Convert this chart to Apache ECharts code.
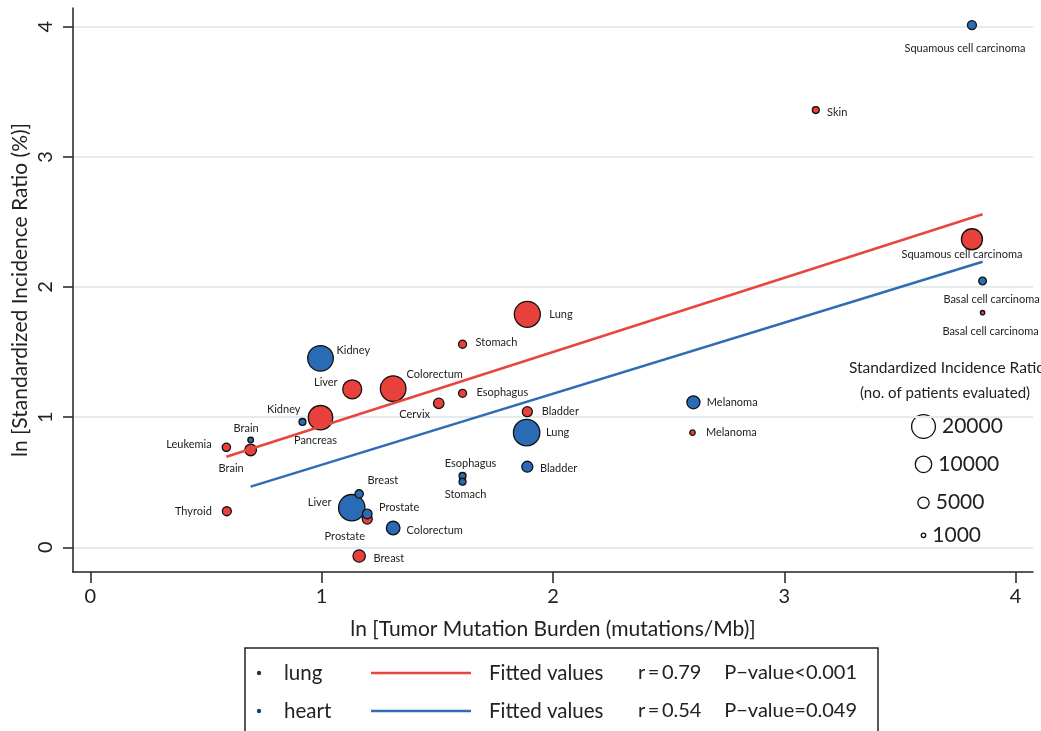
<!DOCTYPE html>
<html>
<head>
<meta charset="utf-8">
<title>TMB vs standardized incidence ratio</title>
<script src="https://cdn.jsdelivr.net/npm/echarts@6/dist/echarts.min.js"></script>
<style>
  html, body { margin: 0; padding: 0; background: #fff; }
  #chart { width: 1041px; height: 731px; }
</style>
</head>
<body>
<div id="chart"></div>
<script>
// ln(TMB) on x, ln(SIR) on y, patients -> bubble size
const lungNames = ['Leukemia', 'Brain', 'Thyroid', 'Pancreas', 'Liver', 'Colorectum', 'Cervix', 'Esophagus', 'Stomach',
  'Lung', 'Bladder', 'Prostate', 'Breast', 'Melanoma', 'Skin', 'Squamous cell carcinoma', 'Basal cell carcinoma'];
const lungTmb = [0.588, 0.693, 0.590, 0.995, 1.132, 1.309, 1.506, 1.609, 1.609, 1.889, 1.889, 1.197, 1.162, 2.603, 3.136, 3.811, 3.857];
const lungSir = [0.768, 0.748, 0.277, 0.996, 1.214, 1.219, 1.106, 1.183, 1.560, 1.790, 1.042, 0.217, -0.067, 0.881, 3.360, 2.367, 1.803];
const lungPatients = [2800, 5100, 3200, 20600, 12800, 22600, 4200, 2600, 2600, 23300, 3900, 3900, 5700, 1300, 2000, 15500, 900];

const heartNames = ['Kidney', 'Kidney', 'Brain', 'Liver', 'Breast', 'Prostate', 'Colorectum', 'Esophagus', 'Stomach',
  'Lung', 'Bladder', 'Melanoma', 'Squamous cell carcinoma', 'Basal cell carcinoma'];
const heartTmb = [0.995, 0.917, 0.693, 1.130, 1.162, 1.197, 1.309, 1.609, 1.609, 1.886, 1.889, 2.607, 3.811, 3.857];
const heartSir = [1.452, 0.963, 0.824, 0.304, 0.410, 0.256, 0.148, 0.548, 0.504, 0.881, 0.619, 1.114, 4.013, 2.046];
const heartPatients = [22600, 2000, 1400, 24000, 2800, 3600, 6800, 2000, 2000, 24000, 4600, 6300, 3200, 2400];

// fitted values at the ends of each group's x range
const lungFit = [[0.588, 0.696], [3.857, 2.559]];
const heartFit = [[0.693, 0.466], [3.857, 2.194]];

const xTicks = [0, 1, 2, 3, 4];
const yTicks = [0, 1, 2, 3, 4];
const sizeLegendValues = [20000, 10000, 5000, 1000];

// label placement (align, dx, dy) relative to marker centre
const lungLabelPos = [['right', -14.7, -3], ['right', -7, 19], ['right', -15, 0], ['center', -5, 23], ['right', -14.6, -7],
  ['left', 13.4, -14], ['right', -8.7, 11], ['left', 14, -1], ['left', 13, -2], ['left', 22, 0], ['left', 14.4, 0],
  ['right', -2.3, 17], ['left', 14.4, 2], ['left', 13.4, 0], ['left', 11.3, 2], ['center', -10, 15], ['center', 8, 19]];
const heartLabelPos = [['left', 16, -8], ['right', -2, -13], ['center', -4.5, -12], ['right', -20.3, -5], ['left', 8.4, -13],
  ['left', 11.7, -7], ['left', 13.4, 2], ['center', 8, -13], ['center', 3, 13], ['left', 19.3, 0], ['left', 12.7, 2],
  ['left', 13.4, 0], ['center', -7, 23], ['center', 9, 18]];

const RED = '#e8403a';
const BLUE = '#2a6bb5';
const FONT = 'Lato';

function radius(n) {
  return 12.5 * Math.sqrt(n / 20000);
}

function buildPoints(names, tmb, sir, patients, labelPos) {
  return names.map((name, i) => ({
    name: name,
    value: [tmb[i], sir[i], patients[i]],
    label: {
      align: labelPos[i][0],
      offset: [labelPos[i][1], labelPos[i][2]]
    }
  }));
}

function scatterSeries(name, color, data) {
  return {
    name: name,
    type: 'scatter',
    data: data,
    symbol: 'circle',
    symbolSize: val => Math.max(2 * radius(val[2]) - 1, 2),
    itemStyle: { color: color, borderColor: '#111', borderWidth: 1.3, opacity: 1 },
    label: {
      show: true,
      position: 'inside',
      formatter: '{b}',
      verticalAlign: 'middle',
      fontFamily: FONT,
      fontSize: 11,
      color: '#222'
    },
    emphasis: { disabled: true },
    z: 3
  };
}

function fitSeries(name, color, data) {
  return {
    name: name,
    type: 'line',
    data: data,
    symbol: 'none',
    lineStyle: { color: color, width: 2.5 },
    emphasis: { disabled: true },
    silent: true,
    z: 4
  };
}

// legend box under the axis title
const legendRows = [
  { y: 673, dot: '#333', label: 'lung', line: '#e8453f', r: 'r\u2009=\u20090.79', p: 'P\u2212value<0.001' },
  { y: 711, dot: '#1f3f6e', label: 'heart', line: '#2e6db5', r: 'r\u2009=\u20090.54', p: 'P\u2212value=0.049' }
];

function text(str, x, y, size, align) {
  return {
    type: 'text',
    silent: true,
    style: {
      text: str, x: x, y: y,
      font: size + 'px ' + FONT,
      fill: '#222',
      align: align || 'left', textAlign: align || 'left',
      verticalAlign: 'middle', textVerticalAlign: 'middle'
    }
  };
}

const graphics = [{
  type: 'rect',
  silent: true,
  shape: { x: 245, y: 648, width: 633, height: 100 },
  style: { fill: 'none', stroke: '#222', lineWidth: 1.5 }
}];
legendRows.forEach(row => {
  graphics.push({ type: 'circle', silent: true, shape: { cx: 259, cy: row.y, r: 2.2 }, style: { fill: row.dot } });
  graphics.push(text(row.label, 284, row.y, 20.5));
  graphics.push({ type: 'line', silent: true, shape: { x1: 371, y1: row.y, x2: 471, y2: row.y }, style: { stroke: row.line, lineWidth: 2.5 } });
  graphics.push(text('Fitted values', 489, row.y, 20.5));
  graphics.push(text(row.r, 638, row.y, 20));
  graphics.push(text(row.p, 857, row.y, 20, 'right'));
});

// bubble size key
graphics.push(text('Standardized Incidence Ratio', 947, 368, 15.5, 'center'));
graphics.push(text('(no. of patients evaluated)', 945, 393, 15, 'center'));
const sizeRowsY = [426.5, 464.3, 502.7, 535.3];
sizeLegendValues.forEach((v, i) => {
  const r = radius(v);
  graphics.push({
    type: 'circle', silent: true,
    shape: { cx: 923.5, cy: sizeRowsY[i], r: Math.max(r - 0.6, 1.5) },
    style: { fill: '#fff', stroke: '#111', lineWidth: 1.3 }
  });
  graphics.push(text(String(v), 923.5 + r + 6, sizeRowsY[i], 21));
});

const chart = echarts.init(document.getElementById('chart'), null, { renderer: 'canvas' });

chart.setOption({
  animation: false,
  backgroundColor: '#fff',
  grid: { left: 73, right: 8, top: 8, bottom: 159, containLabel: false, outerBoundsMode: 'none' },
  xAxis: {
    type: 'value',
    min: -0.075,
    max: 4.075,
    name: 'ln [Tumor Mutation Burden (mutations/Mb)]',
    nameLocation: 'middle',
    nameGap: 47,
    nameMoveOverlap: false,
    nameTextStyle: { fontFamily: FONT, fontSize: 21, color: '#222' },
    axisLine: { show: true, onZero: false, lineStyle: { color: '#222', width: 1.5 } },
    axisTick: { show: true, length: 11, customValues: xTicks, lineStyle: { color: '#222', width: 1.5 } },
    axisLabel: { customValues: xTicks, margin: 15, fontFamily: FONT, fontSize: 20, color: '#222' },
    splitLine: { show: false }
  },
  yAxis: {
    type: 'value',
    min: -0.19,
    max: 4.144,
    name: 'ln [Standardized Incidence Ratio (%)]',
    nameLocation: 'middle',
    nameGap: 42,
    nameRotate: 90,
    nameMoveOverlap: false,
    nameTextStyle: { fontFamily: FONT, fontSize: 21, color: '#222' },
    axisLine: { show: true, onZero: false, lineStyle: { color: '#222', width: 1.5 } },
    axisTick: { show: true, length: 10, customValues: yTicks, lineStyle: { color: '#222', width: 1.5 } },
    axisLabel: { customValues: yTicks, rotate: 90, margin: 17, fontFamily: FONT, fontSize: 20, color: '#222' },
    splitLine: { show: true, lineStyle: { color: '#e3ebed', width: 2 } }
  },
  series: [
    scatterSeries('lung', RED, buildPoints(lungNames, lungTmb, lungSir, lungPatients, lungLabelPos)),
    scatterSeries('heart', BLUE, buildPoints(heartNames, heartTmb, heartSir, heartPatients, heartLabelPos)),
    fitSeries('Fitted lung', '#e8453f', lungFit),
    fitSeries('Fitted heart', '#2e6db5', heartFit)
  ],
  graphic: { elements: graphics }
});
</script>
</body>
</html>
